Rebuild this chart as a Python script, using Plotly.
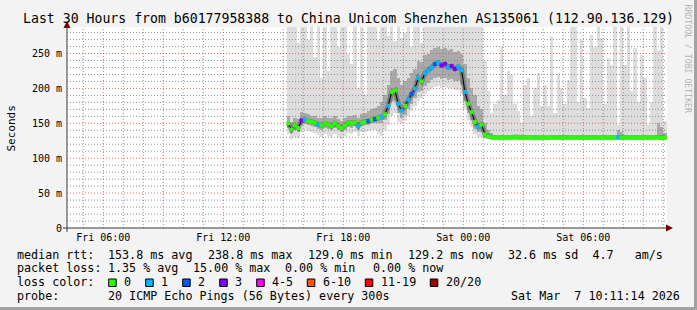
import plotly.graph_objects as go
import pandas as pd

# ---------------- data ----------------
SAMPLE_START = "2026-03-06 15:15"
SAMPLE_STEP = "10min"

median_ms = [
    150, 141, 147, 143, 154, 155, 153, 152, 151, 148,
    147, 150, 148, 146, 150, 146, 143, 147, 151, 150,
    151, 146, 151, 152, 153, 155, 156, 158, 159, 163,
    175, 195, 197, 178, 168, 175, 184, 192, 200, 215,
    210, 222, 225, 230, 235, 237, 233, 235, 230, 232,
    228, 231, 226, 195, 178, 166, 152, 145, 148, 134,
    131, 130,
    129.6, 129.4, 129.8, 129.5, 129.3, 129.7, 130.2, 129.5, 129.4, 129.6,
    129.8, 129.5, 129.3, 129.6, 129.9, 129.5, 129.4, 129.7, 129.5, 129.3,
    129.6, 129.8, 129.5, 129.4, 129.6, 129.5, 129.7, 129.4, 129.6, 129.5,
    129.3, 129.8, 129.5, 129.6, 129.4, 129.7, 129.5, 130.1, 129.6, 129.4,
    129.5, 129.7, 129.6, 129.3, 129.5, 129.8, 129.4, 129.6, 129.5, 129.7,
    129.4, 129.2,
]

loss_count = [
    0, 0, 0, 0, 3, 1, 0, 0, 0, 1,
    0, 0, 0, 0, 0, 0, 0, 0, 0, 0,
    0, 1, 0, 0, 2, 0, 2, 0, 1, 0,
    1, 0, 0, 1, 1, 0, 1, 2, 1, 1,
    0, 1, 1, 1, 2, 1, 3, 3, 1, 3,
    3, 1, 1, 1, 0, 0, 0, 1, 0, 0,
    0, 0,
    0, 0, 0, 0, 0, 0, 0, 0, 0, 0,
    0, 0, 0, 0, 0, 0, 0, 0, 0, 0,
    0, 0, 0, 0, 0, 0, 0, 0, 0, 0,
    0, 0, 0, 0, 0, 0, 0, 1, 0, 0,
    0, 0, 0, 0, 0, 0, 0, 0, 0, 0,
    0, 0,
]

ping_min = [
    135, 128, 130, 129, 137, 140, 139, 138, 136, 133,
    131, 134, 132, 131, 135, 130, 128, 132, 136, 135,
    137, 132, 137, 138, 139, 141, 140, 135, 132, 140,
    148, 160, 165, 152, 150, 153, 160, 168, 175, 182,
    186, 192, 196, 200, 202, 203, 201, 202, 200, 200,
    198, 198, 190, 170, 155, 145, 135, 130, 130, 128,
    127, 127,
    127.2, 127.0, 127.3, 127.1, 126.9, 127.2, 127.4, 127.1, 127.0, 127.2,
    127.3, 127.1, 126.9, 127.2, 127.4, 127.1, 127.0, 127.2, 127.1, 126.9,
    127.2, 127.3, 127.1, 127.0, 127.2, 127.1, 127.3, 127.0, 127.2, 127.1,
    126.9, 127.3, 127.1, 127.2, 127.0, 127.2, 127.1, 127.5, 127.2, 127.0,
    127.1, 127.3, 127.2, 126.9, 127.1, 127.3, 127.0, 127.2, 127.1, 127.3,
    127.0, 126.8,
]

ping_lo = [
    144, 136, 141, 138, 147, 149, 148, 146, 145, 142,
    141, 144, 142, 140, 144, 140, 137, 141, 145, 144,
    146, 141, 146, 147, 148, 150, 150, 150, 150, 155,
    163, 180, 182, 165, 158, 162, 170, 178, 186, 195,
    196, 203, 208, 212, 215, 216, 214, 215, 212, 213,
    210, 210, 205, 182, 165, 155, 142, 137, 138, 130,
    129, 128,
    128.4, 128.2, 128.5, 128.3, 128.1, 128.4, 128.8, 128.3, 128.2, 128.4,
    128.5, 128.3, 128.1, 128.4, 128.6, 128.3, 128.2, 128.4, 128.3, 128.1,
    128.4, 128.5, 128.3, 128.2, 128.4, 128.3, 128.5, 128.2, 128.4, 128.3,
    128.1, 128.5, 128.3, 128.4, 128.2, 128.4, 128.3, 128.8, 128.4, 128.2,
    128.3, 128.5, 128.4, 128.1, 128.3, 128.5, 128.2, 128.4, 128.3, 128.5,
    128.2, 128.0,
]

ping_hi = [
    160, 152, 158, 156, 166, 165, 163, 161, 160, 158,
    157, 160, 158, 157, 161, 156, 154, 158, 161, 160,
    162, 157, 163, 165, 167, 170, 172, 175, 180, 190,
    205, 225, 228, 215, 205, 210, 215, 222, 228, 240,
    238, 248, 250, 255, 258, 260, 257, 258, 255, 256,
    252, 254, 250, 235, 215, 200, 190, 175, 170, 150,
    140, 136,
    131.5, 131.2, 131.8, 131.4, 131.1, 131.6, 132.4, 131.4, 131.3, 131.5,
    131.8, 131.4, 131.2, 131.6, 131.9, 131.4, 131.3, 131.7, 131.4, 131.2,
    131.5, 131.8, 131.4, 131.3, 131.6, 131.4, 131.7, 131.3, 131.5, 131.4,
    131.2, 131.8, 131.4, 131.6, 131.3, 131.7, 131.4, 140.0, 138.0, 131.3,
    131.4, 131.7, 131.5, 131.2, 131.4, 131.8, 131.3, 131.6, 131.4, 150.0,
    145.0, 136.0,
]

ping_max = [
    300, 300, 300, 265, 300, 300, 270, 300, 245, 300,
    215, 300, 225, 300, 300, 260, 300, 300, 250, 235,
    300, 200, 300, 190, 300, 300, 300, 270, 300, 300,
    275, 300, 268, 300, 272, 280, 300, 260, 300, 300,
    265, 300, 300, 300, 300, 300, 300, 300, 300, 300,
    300, 300, 300, 300, 300, 300, 300, 300, 300, 240,
    196, 165, 178, 183, 260, 190, 225, 219, 177, 168,
    150, 205, 215, 160, 200, 222, 175, 205, 175, 275,
    165, 222, 200, 177, 212, 300, 300, 181, 270, 186,
    172, 277, 260, 300, 272, 177, 243, 234, 300, 148,
    300, 234, 300, 196, 258, 181, 248, 215, 148, 181,
    300, 253, 300, 153,
]

x_tick_times = ["2026-03-06 06:00", "2026-03-06 12:00", "2026-03-06 18:00",
                "2026-03-07 00:00", "2026-03-07 06:00"]
x_tick_labels = ["Fri 06:00", "Fri 12:00", "Fri 18:00", "Sat 00:00", "Sat 06:00"]
y_tick_vals = [0, 50, 100, 150, 200, 250]
y_tick_labels = ["0", "50 m", "100 m", "150 m", "200 m", "250 m"]

X_RANGE = ["2026-03-06 04:11:14", "2026-03-07 10:11:14"]
Y_RANGE = [0, 288]

loss_legend_labels = ["0", "1", "2", "3", "4-5", "6-10", "11-19", "20/20"]
loss_legend_colors = ["#26ff00", "#00b8ff", "#0059ff", "#7e00ff", "#ff00ff",
                      "#ff5500", "#ff0000", "#a10000"]

title_text = "Last 30 Hours from b60177958388 to China Unicom Shenzhen AS135061 (112.90.136.129)"
row1 = [("median rtt:", 16), ("153.8 ms avg", 107.3), ("238.8 ms max", 207.3),
        ("129.0 ms min", 307.3), ("129.2 ms now", 407.3), ("32.6 ms sd  4.7   am/s", 507.3)]
row2 = [("packet loss:", 16), ("1.35 % avg", 107.3), ("15.00 % max", 192),
        ("0.00 % min", 284.4), ("0.00 % now", 371.6)]
row4 = [("probe:", 16), ("20 ICMP Echo Pings (56 Bytes) every 300s", 107.3)]
stamp_text = "Sat Mar  7 10:11:14 2026"

n = len(median_ms)
for arr in (loss_count, ping_min, ping_lo, ping_hi, ping_max):
    assert len(arr) == n, len(arr)

times = pd.date_range(SAMPLE_START, periods=n, freq=SAMPLE_STEP)


def loss_color(c):
    if c <= 3:
        return loss_legend_colors[c]
    if c <= 5:
        return loss_legend_colors[4]
    if c <= 10:
        return loss_legend_colors[5]
    if c <= 19:
        return loss_legend_colors[6]
    return loss_legend_colors[7]


# ---------------- geometry helpers (pixel -> paper) ----------------
W, H = 697, 310
PL, PR, PT, PB = 67, 667, 27, 228


def px(x):
    return (x - PL) / (PR - PL)


def py(y):
    return (PB - y) / (PB - PT)


MONO = "DejaVu Sans Mono"
fig = go.Figure()

bar_w = 600000  # 10 min in ms
fig.add_trace(go.Bar(
    x=times, base=ping_min, y=[h - l for h, l in zip(ping_max, ping_min)],
    width=bar_w, marker=dict(color="#dddddd", line=dict(width=0)),
    hoverinfo="skip"))
fig.add_trace(go.Bar(
    x=times, base=ping_lo, y=[h - l for h, l in zip(ping_hi, ping_lo)],
    width=bar_w, marker=dict(color="#aaaaaa", line=dict(width=0)),
    hoverinfo="skip"))

# grid lines (drawn above the smoke, like rrdtool)
minor_y = [v for v in range(10, 290, 10) if v % 50 != 0]
major_y = [v for v in range(50, 290, 50)]
hours = pd.date_range("2026-03-06 05:00", "2026-03-07 10:00", freq="1h")
minor_x = [t for t in hours if t.hour % 3 != 0]
major_x = [t for t in hours if t.hour % 3 == 0]


def hlines(vals):
    xs, ys = [], []
    for v in vals:
        xs += [pd.Timestamp(X_RANGE[0]), pd.Timestamp(X_RANGE[1]), None]
        ys += [v, v, None]
    return xs, ys


def vlines(vals):
    xs, ys = [], []
    for t in vals:
        xs += [t, t, None]
        ys += [Y_RANGE[0], Y_RANGE[1], None]
    return xs, ys


gray = "rgba(120,120,120,0.8)"
red = "rgba(230,70,70,0.8)"
for (xs, ys), col in [(hlines(minor_y), gray), (vlines(minor_x), gray),
                      (hlines(major_y), red), (vlines(major_x), red)]:
    fig.add_trace(go.Scatter(x=xs, y=ys, mode="lines",
                             line=dict(color=col, width=1, dash="1px,2px"),
                             hoverinfo="skip", connectgaps=False))

# dark core of the smoke around the median
fig.add_trace(go.Scatter(x=times, y=median_ms, mode="lines",
                         line=dict(color="rgba(70,70,70,0.45)", width=5),
                         hoverinfo="skip"))
# median
fig.add_trace(go.Scatter(x=times, y=median_ms, mode="lines",
                         line=dict(color="#000000", width=1), hoverinfo="skip"))
fig.add_trace(go.Scatter(x=times, y=median_ms, mode="markers",
                         marker=dict(symbol="square", size=4,
                                     color=[loss_color(c) for c in loss_count],
                                     line=dict(width=0)),
                         hoverinfo="skip"))

annotations = []
shapes = []


def text(x, y, s, size=11.7, anchor="left", color="#000000", angle=0):
    annotations.append(dict(x=px(x), y=py(y), xref="paper", yref="paper", text=s,
                            showarrow=False, xanchor=anchor, yanchor="middle",
                            borderpad=0, textangle=angle,
                            font=dict(family=MONO, size=size, color=color)))


text(348, 18.5, title_text, size=13.2, anchor="center")
text(11, 128.5, "Seconds", size=11, anchor="center", angle=-90)
text(687.5, 59, "RRDTOOL / TOBI OETIKER", size=8.2, anchor="center",
     color="#b4b4b4", angle=90)

for s, x in row1:
    text(x, 254.7, s)
for s, x in row2:
    text(x, 268.3, s)
text(16, 282.3, "loss color:")
sq_x = [108.7, 145.7, 182.7, 219.7, 256.7, 307.3, 365.3, 430.3]
lab_x = [123.3, 160.3, 197.3, 234.3, 271.3, 322.0, 380.0, 445.0]
for lab, col, sx, lx in zip(loss_legend_labels, loss_legend_colors, sq_x, lab_x):
    shapes.append(dict(type="rect", xref="paper", yref="paper",
                       x0=px(sx), x1=px(sx + 7.5), y0=py(286.5), y1=py(279),
                       fillcolor=col, line=dict(color="#000000", width=1),
                       layer="above"))
    text(lx, 282.3, lab)
for s, x in row4:
    text(x, 296, s)
text(681, 296, stamp_text, anchor="right")

# axes with arrows
axis_col = "#3a3a3a"
arrow_col = "#7a0000"
shapes.append(dict(type="line", xref="paper", yref="paper",
                   x0=px(63), x1=px(668), y0=py(228), y1=py(228),
                   line=dict(color=axis_col, width=1), layer="above"))
shapes.append(dict(type="line", xref="paper", yref="paper",
                   x0=px(67), x1=px(67), y0=py(232), y1=py(25),
                   line=dict(color=axis_col, width=1), layer="above"))


def tri(points):
    return "M " + " L ".join(f"{px(a):.5f},{py(b):.5f}" for a, b in points) + " Z"


shapes.append(dict(type="path", xref="paper", yref="paper",
                   path=tri([(63.5, 28), (70.5, 28), (67, 21)]),
                   fillcolor=arrow_col, line=dict(width=0), layer="above"))
shapes.append(dict(type="path", xref="paper", yref="paper",
                   path=tri([(666, 224.5), (666, 231.5), (673, 228)]),
                   fillcolor=arrow_col, line=dict(width=0), layer="above"))

# frame (3D border)
shapes.append(dict(type="rect", xref="paper", yref="paper",
                   x0=px(694), x1=px(697), y0=py(310), y1=py(0),
                   fillcolor="#a2a2a2", line=dict(width=0), layer="above"))
shapes.append(dict(type="rect", xref="paper", yref="paper",
                   x0=px(0), x1=px(697), y0=py(310), y1=py(307),
                   fillcolor="#a2a2a2", line=dict(width=0), layer="above"))

fig.update_layout(
    width=W, height=H,
    margin=dict(l=PL, r=W - PR, t=PT, b=H - PB, pad=0),
    paper_bgcolor="#f3f3f3", plot_bgcolor="#ffffff",
    barmode="overlay", bargap=0, showlegend=False, hovermode=False,
    annotations=annotations, shapes=shapes,
    xaxis=dict(type="date", range=X_RANGE, showgrid=False, zeroline=False,
               showline=False, ticks="", tickvals=x_tick_times,
               ticktext=x_tick_labels, ticklabelstandoff=2,
               tickfont=dict(family=MONO, size=10, color="#000000"),
               fixedrange=True),
    yaxis=dict(range=Y_RANGE, showgrid=False, zeroline=False, showline=False,
               ticks="", tickvals=y_tick_vals, ticktext=y_tick_labels,
               ticklabelstandoff=4,
               tickfont=dict(family=MONO, size=10, color="#000000"),
               fixedrange=True),
)

fig.write_html("out.html")
